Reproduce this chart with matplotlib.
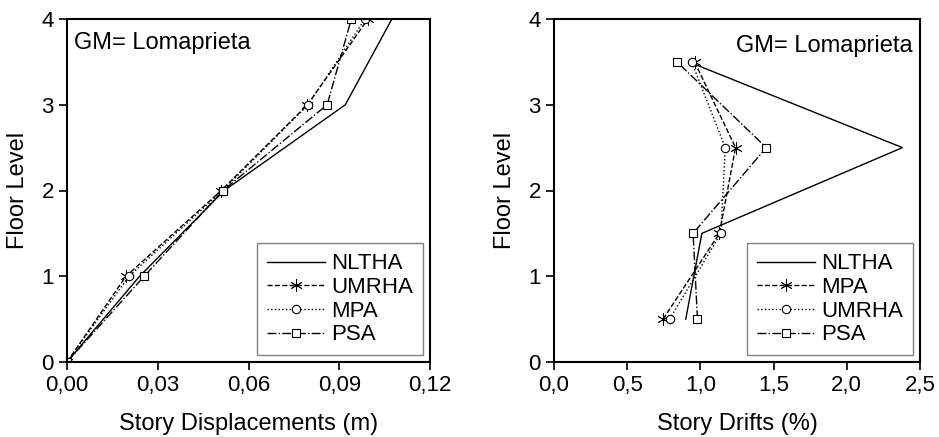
import matplotlib
matplotlib.use("Agg")
import matplotlib.pyplot as plt
from matplotlib.ticker import FuncFormatter

plt.rcParams["font.family"] = ["Liberation Sans", "DejaVu Sans"]

# story displacements (m) at floor levels 0..4
floors = [0, 1, 2, 3, 4]
disp_nltha = [0.0, 0.024, 0.052, 0.092, 0.1074]
disp_umrha = [0.0, 0.0195, 0.051, 0.0795, 0.0995]
disp_mpa = [0.0, 0.0205, 0.0515, 0.0797, 0.0985]
disp_psa = [0.0, 0.0255, 0.0516, 0.086, 0.094]

# story drifts (%) at mid-story levels
mid_levels = [0.5, 1.5, 2.5, 3.5]
drift_nltha = [0.90, 1.01, 2.38, 0.92]
drift_mpa = [0.745, 1.13, 1.24, 0.96]
drift_umrha = [0.79, 1.14, 1.17, 0.94]
drift_psa = [0.98, 0.95, 1.45, 0.84]

fig = plt.figure(figsize=(9.39, 4.37), dpi=100)
ax1 = fig.add_axes([67 / 939, (437 - 362) / 437, 363 / 939, 343 / 437])
ax2 = fig.add_axes([554 / 939, (437 - 362) / 437, 366 / 939, 343 / 437])

mk = dict(markerfacecolor="white", markeredgecolor="black", markersize=6,
          markeredgewidth=0.8)
star = dict(mk, marker=(6, 2, 0), markersize=9, markeredgewidth=0.6)
lw = 1.0

ax1.plot(disp_nltha, floors, "k-", lw=lw, label="NLTHA")
ax1.plot(disp_umrha, floors, "k--", lw=lw, label="UMRHA", **star)
ax1.plot(disp_mpa, floors, "k:", lw=lw, marker="o", label="MPA", **mk)
ax1.plot(disp_psa, floors, "k-.", lw=lw, marker="s", label="PSA", **mk)
ax1.set_xlim(0, 0.12)
ax1.set_xticks([0, 0.03, 0.06, 0.09, 0.12])
ax1.xaxis.set_major_formatter(FuncFormatter(lambda v, p: f"{v:.2f}".replace(".", ",")))
ax1.set_xlabel("Story Displacements (m)", fontsize=17, labelpad=12)

ax2.plot(drift_nltha, mid_levels, "k-", lw=lw, label="NLTHA")
ax2.plot(drift_mpa, mid_levels, "k--", lw=lw, label="MPA", **star)
ax2.plot(drift_umrha, mid_levels, "k:", lw=lw, marker="o", label="UMRHA", **mk)
ax2.plot(drift_psa, mid_levels, "k-.", lw=lw, marker="s", label="PSA", **mk)
ax2.set_xlim(0, 2.5)
ax2.set_xticks([0, 0.5, 1.0, 1.5, 2.0, 2.5])
ax2.xaxis.set_major_formatter(FuncFormatter(lambda v, p: f"{v:.1f}".replace(".", ",")))
ax2.set_xlabel("Story Drifts (%)", fontsize=17, labelpad=12)

ax1.text(0.02, 0.93, "GM= Lomaprieta", transform=ax1.transAxes, fontsize=17,
         va="center", ha="left")
ax2.text(0.98, 0.92, "GM= Lomaprieta", transform=ax2.transAxes, fontsize=17,
         va="center", ha="right")

for ax in (ax1, ax2):
    ax.set_ylim(0, 4)
    ax.set_yticks([0, 1, 2, 3, 4])
    ax.set_ylabel("Floor Level", fontsize=17, labelpad=9)
    ax.tick_params(direction="out", length=6, width=1.2, labelsize=16)
    for s in ax.spines.values():
        s.set_linewidth(1.5)
    leg = ax.legend(loc="lower right", fontsize=16, fancybox=False,
                    edgecolor="#808080", framealpha=1, handlelength=2.6,
                    borderaxespad=0.3, labelspacing=0.12, handletextpad=0.3,
                    borderpad=0.45)
    leg.get_frame().set_linewidth(1.0)

fig.savefig("out.png", dpi=100)
